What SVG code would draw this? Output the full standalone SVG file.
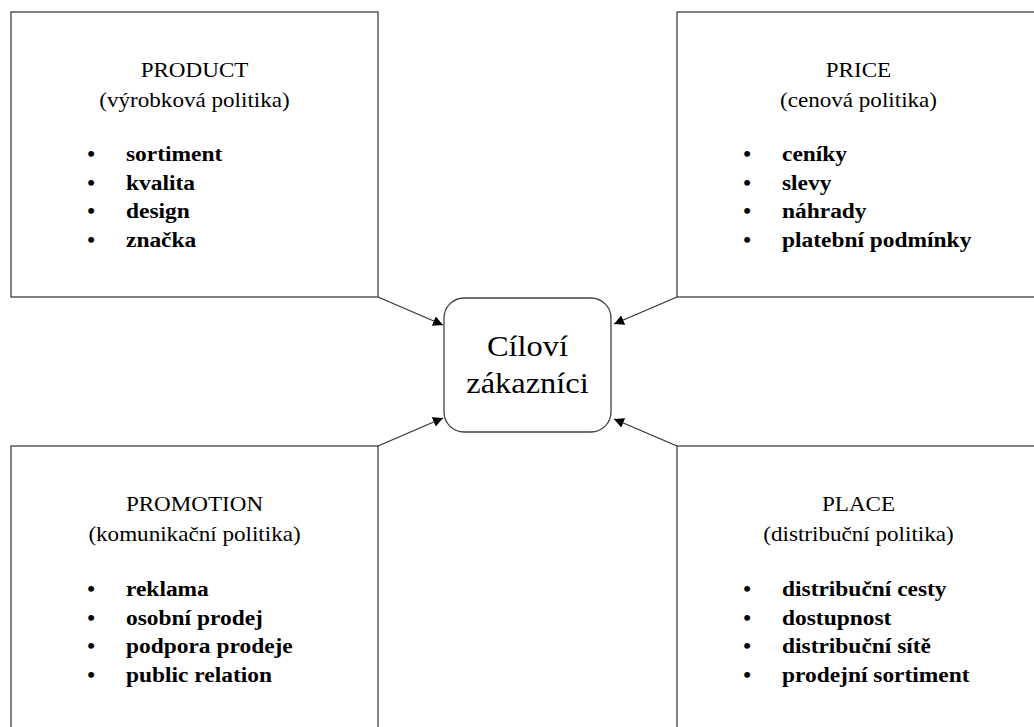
<svg xmlns="http://www.w3.org/2000/svg" width="1034" height="727" viewBox="0 0 1034 727">
<style>
.box{fill:#fff;stroke:#404040;stroke-width:1.3}
.hd{font-family:"Liberation Serif","Times New Roman",serif;font-size:21px;fill:#000;text-anchor:middle}
.it{font-family:"Liberation Serif","Times New Roman",serif;font-size:21.5px;font-weight:bold;fill:#000}
.bl{font-family:"Liberation Serif","Times New Roman",serif;font-size:22px;font-weight:bold;fill:#000;text-anchor:middle}
.ct{font-family:"Liberation Serif","Times New Roman",serif;font-size:29px;fill:#000;text-anchor:middle}
.con{stroke:#333;stroke-width:1.3;fill:none;marker-end:url(#ah)}
</style>
<defs>
<marker id="ah" viewBox="0 0 10 10" refX="10" refY="5" markerWidth="10" markerHeight="10" markerUnits="userSpaceOnUse" orient="auto">
<path d="M0,0 L10,5 L0,10 z" fill="#000"/>
</marker>
</defs>
<rect width="1034" height="727" fill="#fff"/>

<g id="product">
<rect class="box" x="11" y="12" width="367" height="285"/>
<text class="hd" transform="translate(194.5 77) scale(1.1 1)">PRODUCT</text>
<text class="hd" transform="translate(194.5 107) scale(1.1 1)">(výrobková politika)</text>
<text class="bl" x="91" y="161">•</text>
<text class="bl" x="91" y="190">•</text>
<text class="bl" x="91" y="218">•</text>
<text class="bl" x="91" y="247">•</text>
<text class="it" transform="translate(126 161) scale(1.09 1)">sortiment</text>
<text class="it" transform="translate(126 190) scale(1.09 1)">kvalita</text>
<text class="it" transform="translate(126 218) scale(1.09 1)">design</text>
<text class="it" transform="translate(126 247) scale(1.09 1)">značka</text>
</g>

<g id="price">
<rect class="box" x="677" y="12" width="367" height="285"/>
<text class="hd" transform="translate(858.5 77) scale(1.1 1)">PRICE</text>
<text class="hd" transform="translate(858.5 107) scale(1.1 1)">(cenová politika)</text>
<text class="bl" x="747" y="161">•</text>
<text class="bl" x="747" y="190">•</text>
<text class="bl" x="747" y="218">•</text>
<text class="bl" x="747" y="247">•</text>
<text class="it" transform="translate(782 161) scale(1.09 1)">ceníky</text>
<text class="it" transform="translate(782 190) scale(1.09 1)">slevy</text>
<text class="it" transform="translate(782 218) scale(1.09 1)">náhrady</text>
<text class="it" transform="translate(782 247) scale(1.09 1)">platební podmínky</text>
</g>

<g id="promotion">
<rect class="box" x="11" y="446" width="367" height="290"/>
<text class="hd" transform="translate(194.5 511) scale(1.1 1)">PROMOTION</text>
<text class="hd" transform="translate(194.5 541) scale(1.1 1)">(komunikační politika)</text>
<text class="bl" x="91" y="596">•</text>
<text class="bl" x="91" y="625">•</text>
<text class="bl" x="91" y="653">•</text>
<text class="bl" x="91" y="682">•</text>
<text class="it" transform="translate(126 596) scale(1.09 1)">reklama</text>
<text class="it" transform="translate(126 625) scale(1.09 1)">osobní prodej</text>
<text class="it" transform="translate(126 653) scale(1.09 1)">podpora prodeje</text>
<text class="it" transform="translate(126 682) scale(1.09 1)">public relation</text>
</g>

<g id="place">
<rect class="box" x="677" y="446" width="367" height="290"/>
<text class="hd" transform="translate(858.5 511) scale(1.1 1)">PLACE</text>
<text class="hd" transform="translate(858.5 541) scale(1.1 1)">(distribuční politika)</text>
<text class="bl" x="747" y="596">•</text>
<text class="bl" x="747" y="625">•</text>
<text class="bl" x="747" y="653">•</text>
<text class="bl" x="747" y="682">•</text>
<text class="it" transform="translate(782 596) scale(1.09 1)">distribuční cesty</text>
<text class="it" transform="translate(782 625) scale(1.09 1)">dostupnost</text>
<text class="it" transform="translate(782 653) scale(1.09 1)">distribuční sítě</text>
<text class="it" transform="translate(782 682) scale(1.09 1)">prodejní sortiment</text>
</g>

<g id="customers">
<rect class="box" x="444" y="298" width="167" height="134" rx="20" ry="20"/>
<text class="ct" transform="translate(527.5 356) scale(1.12 1)">Cíloví</text>
<text class="ct" transform="translate(527.5 393) scale(1.12 1)">zákazníci</text>
</g>

<g id="connectors">
<line class="con" x1="378" y1="297" x2="443" y2="325"/>
<line class="con" x1="677" y1="297" x2="614" y2="324"/>
<line class="con" x1="378" y1="446" x2="443" y2="418"/>
<line class="con" x1="677" y1="446" x2="614" y2="419"/>
</g>
</svg>
